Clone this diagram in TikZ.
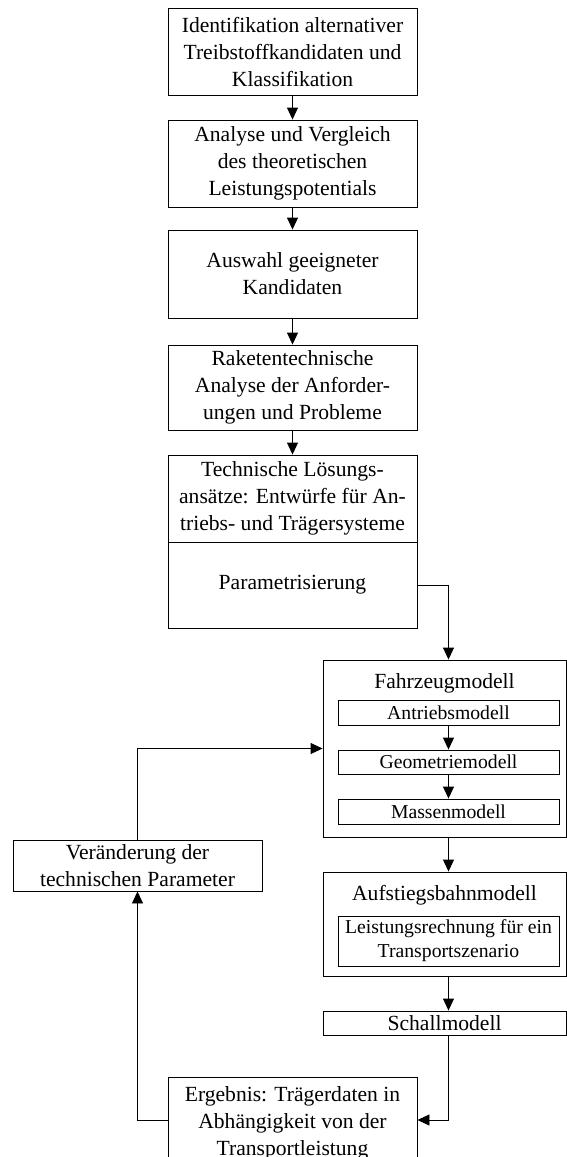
\documentclass[tikz,border=0pt]{standalone}
\usepackage{fontspec}
\setmainfont{Liberation Serif}
\usepackage{tikz}
\usetikzlibrary{arrows.meta, calc}

\begin{document}
\begin{tikzpicture}[x=0.5pt, y=-0.5pt,
    stufe/.style={draw, line width=0.45pt, align=center, minimum width=124.5pt, inner sep=0pt, font=\fontsize{10.8}{13.5}\selectfont},
    modell/.style={draw, line width=0.45pt, minimum width=121.5pt, inner sep=0pt},
    teil/.style={draw, line width=0.45pt, align=center, minimum width=110.5pt, inner sep=0pt, font=\fontsize{9.85}{12}\selectfont},
    titel/.style={inner sep=0pt, font=\fontsize{10.8}{13.5}\selectfont},
    pfeil/.style={line width=0.45pt, -{Triangle[length=6pt, width=5.5pt]}}]
    \useasboundingbox (0,0) rectangle (567,1157);
    % Hauptkette
    \node[stufe, minimum height=43.5pt] (kandidaten) at (292.5,51.5) {Identifikation alternativer\\Treibstoffkandidaten und\\Klassifikation};
    \node[stufe, minimum height=43.5pt] (vergleich) at (292.5,163.5) {Analyse und Vergleich\\des theoretischen\\Leistungspotentials};
    \node[stufe, minimum height=44pt] (auswahl) at (292.5,274) {Auswahl geeigneter\\Kandidaten};
    \node[stufe, minimum height=42.5pt] (anforderungen) at (292.5,387.5) {Raketentechnische\\Analyse der Anforder-\\ungen und Probleme};
    \node[stufe, minimum height=43.5pt] (entwuerfe) at (292.5,498.5) {Technische Lösungs-\\ansätze: Entwürfe für An-\\triebs- und Trägersysteme};
    \node[stufe, minimum height=43pt] (parameter) at (292.5,585) {Parametrisierung};
    % Modellkette
    \node[modell, minimum height=88.5pt] (fahrzeug) at (444.5,748.5) {};
    \node[titel] (fahrzeugtitel) at (444.5,683) {Fahrzeugmodell};
    \node[teil, minimum height=12.5pt] (antrieb) at (448.5,712.5) {Antriebsmodell};
    \node[teil, minimum height=12pt] (geometrie) at (448.5,762) {Geometriemodell};
    \node[teil, minimum height=12.5pt] (massen) at (448.5,811.5) {Massenmodell};
    \node[modell, minimum height=52pt] (aufstieg) at (444.5,924) {};
    \node[titel] (aufstiegtitel) at (444.5,895) {Aufstiegsbahnmodell};
    \node[teil, minimum height=25pt] (leistung) at (448.5,941) {Leistungsrechnung für ein\\Transportszenario};
    \node[stufe, minimum width=121.5pt, minimum height=12pt] (schall) at (444.5,1023) {Schallmodell};
    \node[stufe, minimum height=46pt] (ergebnis) at (292.5,1123) {Ergebnis: Trägerdaten in\\Abhängigkeit von der\\Transportleistung};
    \node[stufe, minimum height=25.5pt] (veraenderung) at (137.5,865.5) {Veränderung der\\technischen Parameter};
    % Verbindungen
    \draw[pfeil] (kandidaten) -- (vergleich);
    \draw[pfeil] (vergleich) -- (auswahl);
    \draw[pfeil] (auswahl) -- (anforderungen);
    \draw[pfeil] (anforderungen) -- (entwuerfe);
    \draw[pfeil] (parameter.east) -| (antrieb |- fahrzeug.north);
    \draw[pfeil] (antrieb) -- (geometrie);
    \draw[pfeil] (geometrie) -- (massen);
    \draw[pfeil] (massen |- fahrzeug.south) -- (massen |- aufstieg.north);
    \draw[pfeil] (leistung |- aufstieg.south) -- (leistung |- schall.north);
    \draw[pfeil] (leistung |- schall.south) |- ([yshift=1.5pt]ergebnis.east);
    \draw[pfeil] ([yshift=1.5pt]ergebnis.west) -| (veraenderung.south);
    \draw[pfeil] (veraenderung.north) |- (fahrzeug.west);
\end{tikzpicture}
\end{document}
